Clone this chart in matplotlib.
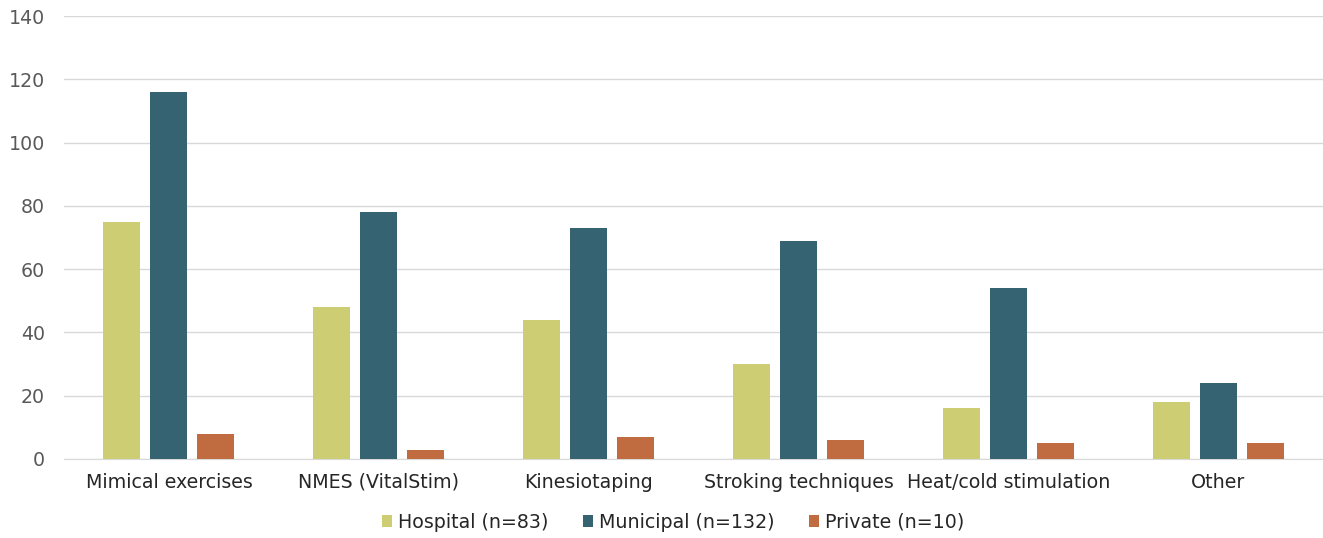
import matplotlib
matplotlib.use("Agg")
import matplotlib.pyplot as plt
import numpy as np
from matplotlib.patches import Patch

categories = ["Mimical exercises", "NMES (VitalStim)", "Kinesiotaping",
              "Stroking techniques", "Heat/cold stimulation", "Other"]
hospital = [75, 48, 44, 30, 16, 18]
municipal = [116, 78, 73, 69, 54, 24]
private = [8, 3, 7, 6, 5, 5]
series_names = ["Hospital (n=83)", "Municipal (n=132)", "Private (n=10)"]
colors = ["#CDCD74", "#366372", "#C06C40"]
yticks = [0, 20, 40, 60, 80, 100, 120, 140]

plt.rcParams['font.family'] = ['DejaVu Sans']
fig = plt.figure(figsize=(13.23, 5.38), dpi=100)
ax = fig.add_axes([64/1323, 1-459/538, 1-64/1323, (459-16)/538])

x = np.arange(len(categories))
w = 0.176
step = 0.224
for i, (vals, c) in enumerate(zip([hospital, municipal, private], colors)):
    ax.bar(x + (i-1)*step, vals, width=w, color=c, edgecolor='none', zorder=3, label=series_names[i])

ax.set_xlim(-0.5, len(categories)-0.5)
ax.set_ylim(0, 140)
ax.set_yticks(yticks)
ax.set_xticks(x)
ax.set_xticklabels(categories, fontsize=13.7, color='#262626')
ax.tick_params(axis='y', labelsize=13.7, labelcolor='#595959', length=0, pad=13.5)
ax.tick_params(axis='x', length=0, pad=10)
ax.grid(axis='y', color='#D9D9D9', linewidth=1, zorder=0)
for s in ['top', 'right', 'left']:
    ax.spines[s].set_visible(False)
ax.spines['bottom'].set_color('#D9D9D9')

handles = [Patch(facecolor=c, edgecolor='none') for c in colors]
fig.legend(handles, series_names, loc='center', bbox_to_anchor=(673/1323, 1-522/538),
           ncol=3, frameon=False, fontsize=13.7, handlelength=0.55, handleheight=0.55,
           handletextpad=0.3, columnspacing=1.8, labelcolor='#262626')

fig.savefig("out.png", dpi=100)
